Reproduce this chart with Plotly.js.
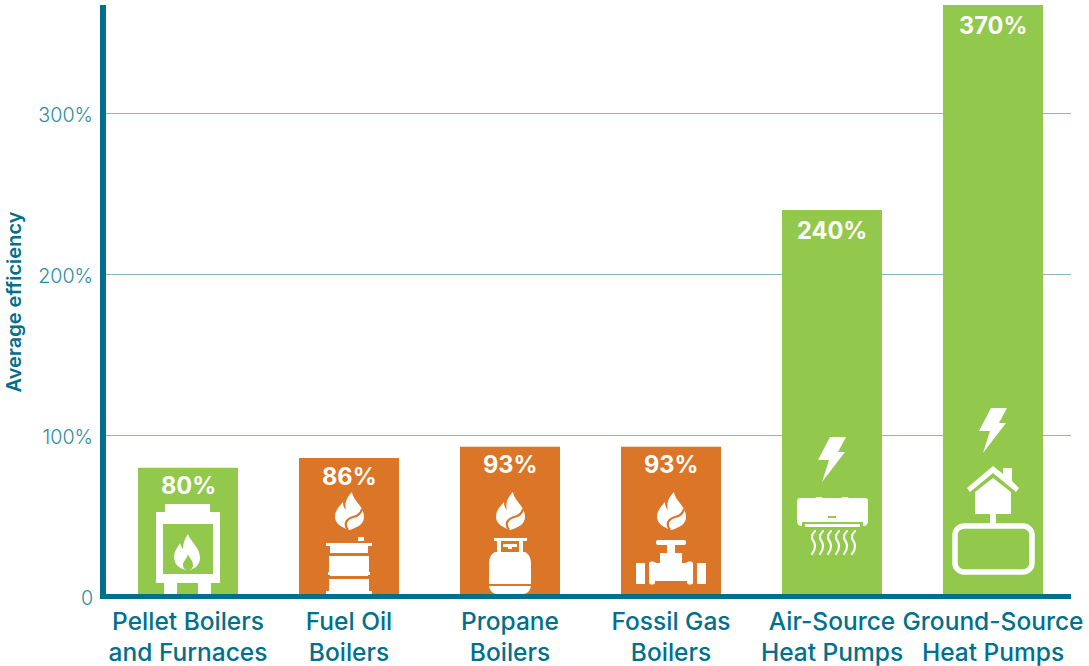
<!DOCTYPE html>
<html><head><meta charset="utf-8">
<script src="https://cdn.plot.ly/plotly-3.0.1.min.js"></script>
<style>html,body{margin:0;padding:0;background:#fff}</style></head>
<body><div id="chart" style="width:1089px;height:666px"></div>
<script>
const categories = ["Pellet Boilers<br>and Furnaces","Fuel Oil<br>Boilers","Propane<br>Boilers","Fossil Gas<br>Boilers","Air-Source<br>Heat Pumps","Ground-Source<br>Heat Pumps"];
const efficiency = [80,86,93,93,240,370];
const valueLabels = ["80%","86%","93%","93%","240%","370%"];
const yTickValues = [0,100,200,300];
const yTickLabels = ["0","100%","200%","300%"];

const GREEN="#92c84b", ORANGE="#db7527", TEAL="#00708c", TICK="#2f8ca3", GRID="#8fb2c6";
const barColors=[GREEN,ORANGE,ORANGE,ORANGE,GREEN,GREEN];
const W=1089,H=666,L=106,R=1071,T=5,B=599;
const xStep=161, x0px=188, yUnit=1.61, y0px=596.5;
const xRange=[(L-x0px)/xStep,(R-x0px)/xStep];
const yRange=[(y0px-B)/yUnit,(y0px-T)/yUnit];

function flame(c){return `<path fill="#fff" d="M18 0C19 9 30 14 30 25C30 32 23 36 15 38C9 36 1 32 1 25C1 18 5 15 9 10C9 14 10 16 12 18C10 11 13 5 18 0Z"/><path fill="none" stroke="${c}" stroke-width="2.2" d="M14 38C9 31 13 27 19 25C24 24 27 22 28 17"/>`;}
const bolt=`<path fill="#fff" d="M12 0H28L20 15H27L4 45L11 23H0Z"/>`;
const icons=[
 {x:156,y:504,w:64,h:90,svg:`<path fill="#fff" d="M9 0H54V8H64V79H55V90H42V79H21V90H8V79H0V8H9Z"/><rect x="7" y="20" width="50" height="50" fill="${GREEN}"/><path fill="#fff" d="M32 30C33 36 44 43 44 54C44 61 38 66 32 66C25 66 18 61 18 53C18 47 22 43 24 39C25 42 26 44 27 45C27 39 29 34 32 30Z"/><path fill="${GREEN}" d="M32 50C33 54 37 56 37 61C37 64 35 66 32 66C29 66 27 64 27 61C27 57 31 55 32 50Z"/>`},
 {x:334,y:492,w:30,h:38,svg:flame(ORANGE)},
 {x:326,y:537,w:46,h:57,svg:`<g fill="#fff"><rect x="32" y="0" width="6" height="4"/><path d="M0 6H46V9H42V16H4V9H0Z"/><rect x="3" y="19" width="40" height="16"/><path d="M2 35H44V38H42V39H4V38H2Z"/><path d="M3 42H43V54H46V57H0V54H3Z"/></g>`},
 {x:495,y:492,w:30,h:38,svg:flame(ORANGE)},
 {x:489,y:538,w:42,h:56,svg:`<path fill="#fff" d="M5 0H38V3H34V14H36C40 16 42 20 42 26V46H0V26C0 20 2 16 6 14H8V3H5ZM12 3V14H30V3ZM14 6H28V9H23V11H19V9H14Z" fill-rule="evenodd"/><path fill="#fff" d="M0 48H42C41 53 38 56 34 56H8C4 56 1 53 0 48Z"/>`},
 {x:656,y:492,w:30,h:38,svg:flame(ORANGE)},
 {x:636,y:540,w:70,h:45,svg:`<g fill="#fff"><rect x="20" y="0" width="30" height="5" rx="2"/><rect x="31" y="5" width="8" height="9"/><path d="M24 13H46V23H50C52 21 56 21 57 23V43C56 45 52 45 51 43V41H19V43C18 45 14 45 13 43V23C14 21 18 21 20 23H24Z"/><rect x="0" y="23" width="9" height="21"/><rect x="61" y="23" width="9" height="21"/></g>`},
 {x:818,y:437,w:29,h:45,svg:bolt},
 {x:797,y:497,w:71,h:30,svg:`<path fill="#fff" d="M3 1H18L20 0H24L26 1H44L46 0H50L52 1H68C70 1 71 2 71 4V24C71 27 69 29 67 29H66V25H5V29H4C2 29 0 27 0 24V4C0 2 1 1 3 1ZM8 27H63V30H8Z" fill-rule="evenodd"/><rect x="31" y="19" width="8" height="2" fill="${GREEN}"/>`},
 {x:810,y:530,w:48,h:25,svg:[0,8,16,24,32,40].map(d=>`<path fill="none" stroke="#fff" stroke-width="2.2" stroke-linecap="round" d="M${d+5} 1C${d+1} 5 ${d+1} 8 ${d+4} 12C${d+6} 16 ${d+5} 20 ${d+2} 24"/>`).join("")},
 {x:979,y:408,w:29,h:45,svg:bolt},
 {x:967,y:466,w:52,h:50,svg:`<path fill="#fff" d="M26 0L36 8V2H45V15L52 22L49 26L26 7L3 26L0 22Z"/><path fill="#fff" d="M8 26L26 12L44 26V48H8Z"/>`},
 {x:990,y:514,w:6,h:10,svg:`<rect width="6" height="10" fill="#fff"/>`},
 {x:952,y:523,w:83,h:52,svg:`<rect x="3" y="3" width="77" height="46" rx="9" fill="none" stroke="#fff" stroke-width="5.5"/>`}
];
const images=icons.map(o=>{
  const s=`<svg xmlns="http://www.w3.org/2000/svg" width="${o.w*3}" height="${o.h*3}" viewBox="0 0 ${o.w} ${o.h}" preserveAspectRatio="none">${o.svg}</svg>`;
  return {source:"data:image/svg+xml,"+encodeURIComponent(s),xref:"x",yref:"y",
    x:(o.x-x0px)/xStep,y:(y0px-o.y)/yUnit,sizex:o.w/xStep,sizey:o.h/yUnit,
    xanchor:"left",yanchor:"top",sizing:"stretch",layer:"above"};
});

const data=[{type:"bar",x:categories,y:efficiency,marker:{color:barColors,line:{width:0}},width:100/xStep,hoverinfo:"skip",cliponaxis:true}];
const annotations=valueLabels.map((t,i)=>({x:i,y:Math.min(efficiency[i],yRange[1]),xref:"x",yref:"y",text:t,showarrow:false,yanchor:"middle",xanchor:"center",yshift:efficiency[i]>200?-20.5:-18,font:{family:"Inter",size:23.6,color:"#fff",weight:700}}));
const layout={width:W,height:H,margin:{l:L,r:W-R,t:T,b:H-B,pad:0},paper_bgcolor:"#fff",plot_bgcolor:"#fff",showlegend:false,bargap:0.38,
 xaxis:{type:"category",categoryorder:"array",categoryarray:categories,range:xRange,fixedrange:true,showgrid:false,showline:false,zeroline:false,ticks:"",tickangle:0,automargin:false,ticklabelstandoff:5,
   tickfont:{family:"Inter",size:24.5,color:TEAL,weight:500}},
 yaxis:{range:yRange,fixedrange:true,tickmode:"array",tickvals:yTickValues,ticktext:yTickLabels,showgrid:true,gridcolor:GRID,gridwidth:1,zeroline:false,showline:true,linecolor:TEAL,linewidth:6,ticks:"",automargin:false,ticklabelstandoff:3,ticklabelshift:2,
   tickfont:{family:"Inter",size:19.7,color:TICK,weight:300},
   title:{text:"Average efficiency",font:{family:"Inter",size:20,color:TEAL,weight:600},standoff:13}},
 shapes:[{type:"line",xref:"paper",yref:"y",x0:-6/(R-L),x1:1,y0:0,y1:0,line:{color:TEAL,width:5},layer:"above"}],
 images,annotations};
Plotly.newPlot("chart",data,layout,{displayModeBar:false,staticPlot:true});
</script></body></html>
